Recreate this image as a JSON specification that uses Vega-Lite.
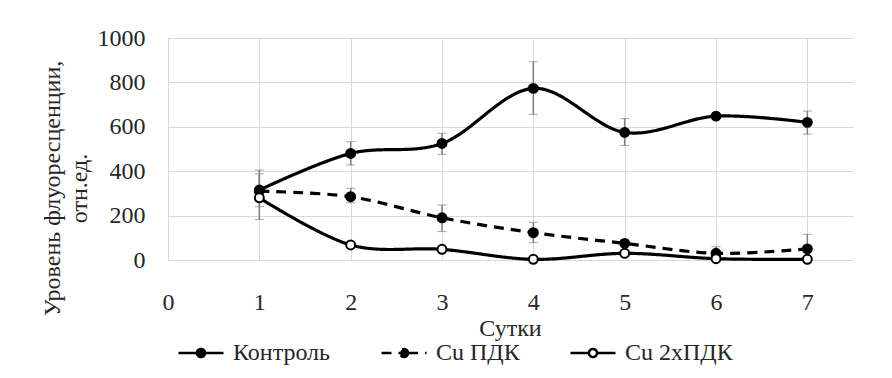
{
  "$schema": "https://vega.github.io/schema/vega-lite/v6.json",
  "width": 685,
  "height": 222,
  "autosize": {"type": "none"},
  "padding": {"left": 168, "top": 38, "right": 39, "bottom": 118},
  "background": "white",
  "config": {
    "font": "Liberation Serif",
    "view": {"stroke": null},
    "axis": {
      "labelFont": "Liberation Serif",
      "titleFont": "Liberation Serif",
      "labelFontSize": 24,
      "titleFontSize": 24,
      "labelColor": "#262626",
      "titleColor": "#262626",
      "titleFontWeight": "normal",
      "gridColor": "#d9d9d9",
      "gridWidth": 1,
      "domain": false,
      "ticks": false,
      "tickSize": 0
    },
    "legend": {
      "labelFont": "Liberation Serif",
      "labelFontSize": 24,
      "labelColor": "#262626"
    }
  },
  "data": {
    "values": [
      {"day": 1, "series": "Контроль", "value": 315, "lo": 240, "hi": 388},
      {"day": 2, "series": "Контроль", "value": 480, "lo": 428, "hi": 533},
      {"day": 3, "series": "Контроль", "value": 525, "lo": 476, "hi": 571},
      {"day": 4, "series": "Контроль", "value": 773, "lo": 656, "hi": 893},
      {"day": 5, "series": "Контроль", "value": 575, "lo": 516, "hi": 637},
      {"day": 6, "series": "Контроль", "value": 648, "lo": 642, "hi": 654},
      {"day": 7, "series": "Контроль", "value": 620, "lo": 567, "hi": 671},
      {"day": 1, "series": "Cu ПДК", "value": 310, "lo": 300, "hi": 320},
      {"day": 2, "series": "Cu ПДК", "value": 285, "lo": 258, "hi": 323},
      {"day": 3, "series": "Cu ПДК", "value": 190, "lo": 128, "hi": 248},
      {"day": 4, "series": "Cu ПДК", "value": 123, "lo": 78, "hi": 170},
      {"day": 5, "series": "Cu ПДК", "value": 75, "lo": 60, "hi": 90},
      {"day": 6, "series": "Cu ПДК", "value": 30, "lo": 0, "hi": 60},
      {"day": 7, "series": "Cu ПДК", "value": 50, "lo": 0, "hi": 116},
      {"day": 1, "series": "Cu 2xПДК", "value": 280, "lo": 183, "hi": 405},
      {"day": 2, "series": "Cu 2xПДК", "value": 68, "lo": 68, "hi": 68},
      {"day": 3, "series": "Cu 2xПДК", "value": 48, "lo": 48, "hi": 48},
      {"day": 4, "series": "Cu 2xПДК", "value": 3, "lo": 3, "hi": 3},
      {"day": 5, "series": "Cu 2xПДК", "value": 30, "lo": 30, "hi": 30},
      {"day": 6, "series": "Cu 2xПДК", "value": 6, "lo": 6, "hi": 6},
      {"day": 7, "series": "Cu 2xПДК", "value": 3, "lo": 3, "hi": 3}
    ]
  },
  "encoding": {
    "x": {
      "field": "day",
      "type": "quantitative",
      "scale": {"domain": [0, 7.5], "nice": false, "zero": false},
      "axis": {
        "values": [0, 1, 2, 3, 4, 5, 6, 7],
        "format": "d",
        "title": "Сутки",
        "labelFont": "Liberation Serif",
        "labelFontSize": 24,
        "titleFont": "Liberation Serif",
        "titleFontSize": 24,
        "labelPadding": 30,
        "labelFlush": false,
        "titleY": 75,
        "titleBaseline": "alphabetic",
        "titleX": 342
      }
    }
  },
  "layer": [
    {
      "mark": {
        "type": "errorbar",
        "ticks": {"size": 9, "color": "#7f7f7f", "strokeWidth": 1.5},
        "rule": {"color": "#7f7f7f", "strokeWidth": 1.5}
      },
      "encoding": {
        "y": {
          "field": "lo",
          "type": "quantitative",
          "scale": {"domain": [0, 1000], "nice": false},
          "axis": {
            "values": [0, 200, 400, 600, 800, 1000],
            "format": "d",
            "title": ["Уровень флуоресценции,", "отн.ед."],
            "labelFont": "Liberation Serif",
            "labelFontSize": 24,
            "titleFont": "Liberation Serif",
            "titleFontSize": 24,
            "labelPadding": 23,
            "titleX": -128,
            "titleY": 150,
            "titleAngle": -90,
            "titleBaseline": "top",
            "titleAlign": "center",
            "titleLineHeight": 27
          }
        },
        "y2": {"field": "hi"}
      }
    },
    {
      "mark": {"type": "line", "interpolate": "cardinal", "strokeWidth": 3.2, "color": "black"},
      "encoding": {
        "y": {
          "field": "value",
          "type": "quantitative",
          "scale": {"domain": [0, 1000], "nice": false},
          "axis": {
            "values": [0, 200, 400, 600, 800, 1000],
            "format": "d",
            "title": ["Уровень флуоресценции,", "отн.ед."],
            "labelFont": "Liberation Serif",
            "labelFontSize": 24,
            "titleFont": "Liberation Serif",
            "titleFontSize": 24,
            "labelPadding": 23,
            "titleX": -128,
            "titleY": 150,
            "titleAngle": -90,
            "titleBaseline": "top",
            "titleAlign": "center",
            "titleLineHeight": 27
          }
        },
        "strokeDash": {
          "field": "series",
          "type": "nominal",
          "scale": {"domain": ["Контроль", "Cu ПДК", "Cu 2xПДК"], "range": [[1, 0], [10, 7], [1, 0]]},
          "legend": {
            "title": null,
            "orient": "none",
            "direction": "horizontal",
            "legendX": 9,
            "legendY": 291,
            "labelFont": "Liberation Serif",
            "labelFontSize": 24,
            "symbolType": "M-1,0H-0.18M0.18,0H1M0.18,0A0.18,0.18,0,1,1,-0.18,0A0.18,0.18,0,1,1,0.18,0Z",
            "symbolSize": 2025,
            "symbolStrokeColor": "black",
            "symbolStrokeWidth": 2.5,
            "labelOffset": 8,
            "columnPadding": 45
          }
        }
      }
    },
    {
      "mark": {"type": "point", "shape": "circle", "size": 80, "filled": true, "stroke": "black", "strokeWidth": 2, "opacity": 1},
      "encoding": {
        "y": {
          "field": "value",
          "type": "quantitative",
          "scale": {"domain": [0, 1000], "nice": false},
          "axis": {
            "values": [0, 200, 400, 600, 800, 1000],
            "format": "d",
            "title": ["Уровень флуоресценции,", "отн.ед."],
            "labelFont": "Liberation Serif",
            "labelFontSize": 24,
            "titleFont": "Liberation Serif",
            "titleFontSize": 24,
            "labelPadding": 23,
            "titleX": -128,
            "titleY": 150,
            "titleAngle": -90,
            "titleBaseline": "top",
            "titleAlign": "center",
            "titleLineHeight": 27
          }
        },
        "fill": {
          "field": "series",
          "type": "nominal",
          "scale": {"domain": ["Контроль", "Cu ПДК", "Cu 2xПДК"], "range": ["black", "black", "white"]},
          "legend": {
            "title": null,
            "orient": "none",
            "direction": "horizontal",
            "legendX": 9,
            "legendY": 291,
            "labelFont": "Liberation Serif",
            "labelFontSize": 24,
            "symbolType": "M-1,0H-0.18M0.18,0H1M0.18,0A0.18,0.18,0,1,1,-0.18,0A0.18,0.18,0,1,1,0.18,0Z",
            "symbolSize": 2025,
            "symbolStrokeColor": "black",
            "symbolStrokeWidth": 2.5,
            "labelOffset": 8,
            "columnPadding": 45
          }
        }
      }
    }
  ]
}
